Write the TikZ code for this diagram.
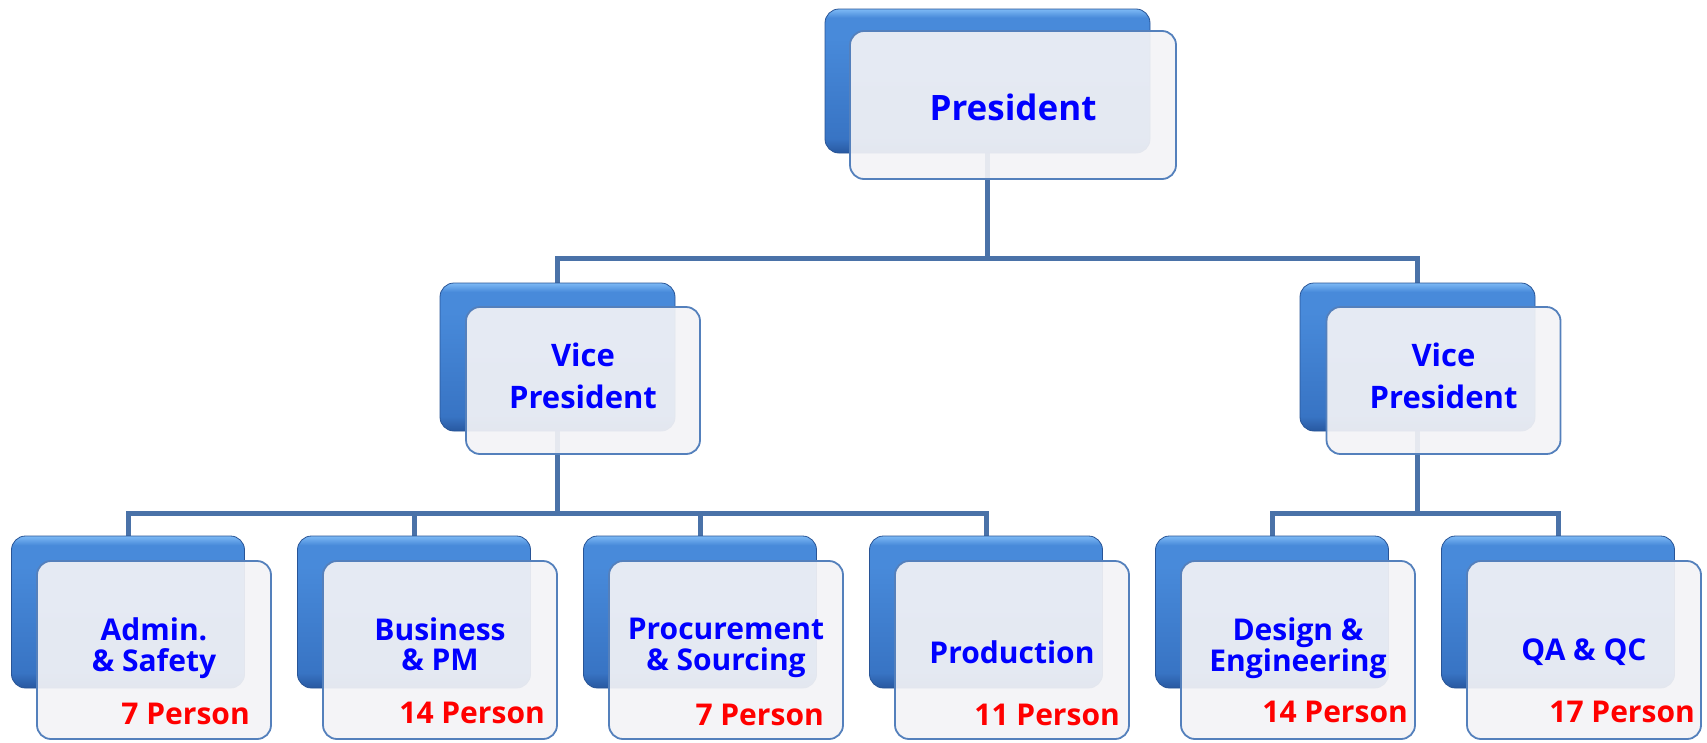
\documentclass[tikz,border=0pt]{standalone}
\usepackage{fontspec}
\setmainfont{Open Sans}
\definecolor{conncol}{RGB}{74,114,168}
\definecolor{backtop}{RGB}{125,185,245}
\definecolor{backmid}{RGB}{72,138,218}
\definecolor{backlow}{RGB}{56,116,196}
\definecolor{backbot}{RGB}{40,88,160}
\definecolor{backedge}{RGB}{40,84,150}
\definecolor{frontfill}{RGB}{243,243,246}
\definecolor{frontedge}{RGB}{84,128,188}
\definecolor{tblue}{RGB}{0,0,255}
\definecolor{tred}{RGB}{255,0,0}
\pgfdeclareverticalshading{backshade}{100bp}{color(0bp)=(backbot); color(25bp)=(backbot); color(30bp)=(backlow); color(65bp)=(backmid); color(72bp)=(backmid); color(75bp)=(backtop); color(100bp)=(backtop)}
\begin{document}
\begin{tikzpicture}[x=1pt,y=-1pt,
  conn/.style={draw=conncol, line width=5pt},
  backbox/.style={rounded corners=14pt, draw=backedge, line width=0.8pt,
    shading=backshade, inner sep=0pt},
  frontbox/.style={rounded corners=14pt, draw=frontedge, line width=1.8pt,
    fill=frontfill, fill opacity=0.92, inner sep=0pt},
  topback/.style={backbox, minimum width=325pt, minimum height=144pt},
  topfront/.style={frontbox, minimum width=326pt, minimum height=148pt},
  vpback/.style={backbox, minimum width=235pt, minimum height=148pt},
  vpfront/.style={frontbox, minimum width=234pt, minimum height=147pt},
  lowback/.style={backbox, minimum width=233pt, minimum height=152pt},
  lowfront/.style={frontbox, minimum width=234pt, minimum height=178pt},
  toptext/.style={text=tblue, font=\fontsize{35}{40}\selectfont\bfseries, inner sep=0pt},
  vptext/.style={text=tblue, font=\fontsize{31}{42}\selectfont\bfseries, align=center, inner sep=0pt},
  lowtext/.style={text=tblue, font=\fontsize{30}{28}\selectfont\bfseries, align=center, inner sep=0pt},
  persontext/.style={text=tred, font=\fontsize{30}{30}\selectfont\bfseries, anchor=east, inner sep=0pt}
]
\useasboundingbox (0,0) rectangle (1707,742);

% junctions
\coordinate (j1) at (987.5,258);
\coordinate (j2) at (557.5,513);
\coordinate (j3) at (1417.5,513);

% back box positions
\coordinate (cpres) at (987.5,81);
\coordinate (cvp1) at (557.5,357);
\coordinate (cvp2) at (1417.5,357);
\coordinate (cd1) at (128,612);
\coordinate (cd2) at (414,612);
\coordinate (cd3) at (700,612);
\coordinate (cd4) at (986,612);
\coordinate (cd5) at (1272,612);
\coordinate (cd6) at (1558,612);

% connectors
\draw[conn] (cpres) -- (j1);
\draw[conn] (cvp1) |- (j1) -| (cvp2);
\draw[conn] (cvp1) -- (j2);
\draw[conn] (cd1) |- (j2) -| (cd4);
\draw[conn] (cd2) |- (j2);
\draw[conn] (cd3) |- (j2);
\draw[conn] (cvp2) -- (j3);
\draw[conn] (cd5) |- (j3) -| (cd6);

% back boxes
\node[topback] (presb) at (cpres) {};
\node[vpback] (vp1b) at (cvp1) {};
\node[vpback] (vp2b) at (cvp2) {};
\node[lowback] (d1b) at (cd1) {};
\node[lowback] (d2b) at (cd2) {};
\node[lowback] (d3b) at (cd3) {};
\node[lowback] (d4b) at (cd4) {};
\node[lowback] (d5b) at (cd5) {};
\node[lowback] (d6b) at (cd6) {};

% front boxes
\node[topfront] (presf) at (1013,105) {};
\node[vpfront] (vp1f) at (583,380.5) {};
\node[vpfront] (vp2f) at (1443.5,380.5) {};
\node[lowfront] (d1f) at (154,650) {};
\node[lowfront] (d2f) at (440,650) {};
\node[lowfront] (d3f) at (726,650) {};
\node[lowfront] (d4f) at (1012,650) {};
\node[lowfront] (d5f) at (1298,650) {};
\node[lowfront] (d6f) at (1584,650) {};

% texts
\node[toptext] (prest) at (1013,107) {President};
\node[vptext] (vp1t) at (583,376) {Vice\\President};
\node[vptext] (vp2t) at (1443.5,376) {Vice\\President};
\node[lowtext] (d1t) at (154,648) {\vphantom{Ag}Admin.\\\vphantom{Ag}\& Safety};
\node[lowtext] (d2t) at (440,648) {\vphantom{Ag}Business\\\vphantom{Ag}\& PM};
\node[lowtext] (d3t) at (726,648) {\vphantom{Ag}Procurement\\\vphantom{Ag}\& Sourcing};
\node[lowtext] (d4t) at (1012,652) {Production};
\node[lowtext] (d5t) at (1298,648) {\vphantom{Ag}Design \&\\\vphantom{Ag}Engineering};
\node[lowtext] (d6t) at (1584,652) {QA \& QC};

\node[persontext] (d1p) at (250,714) {7 Person};
\node[persontext] (d2p) at (545,713) {14 Person};
\node[persontext] (d3p) at (824,715) {7 Person};
\node[persontext] (d4p) at (1120,715) {11 Person};
\node[persontext] (d5p) at (1408,712) {14 Person};
\node[persontext] (d6p) at (1695,712) {17 Person};
\end{tikzpicture}
\end{document}
